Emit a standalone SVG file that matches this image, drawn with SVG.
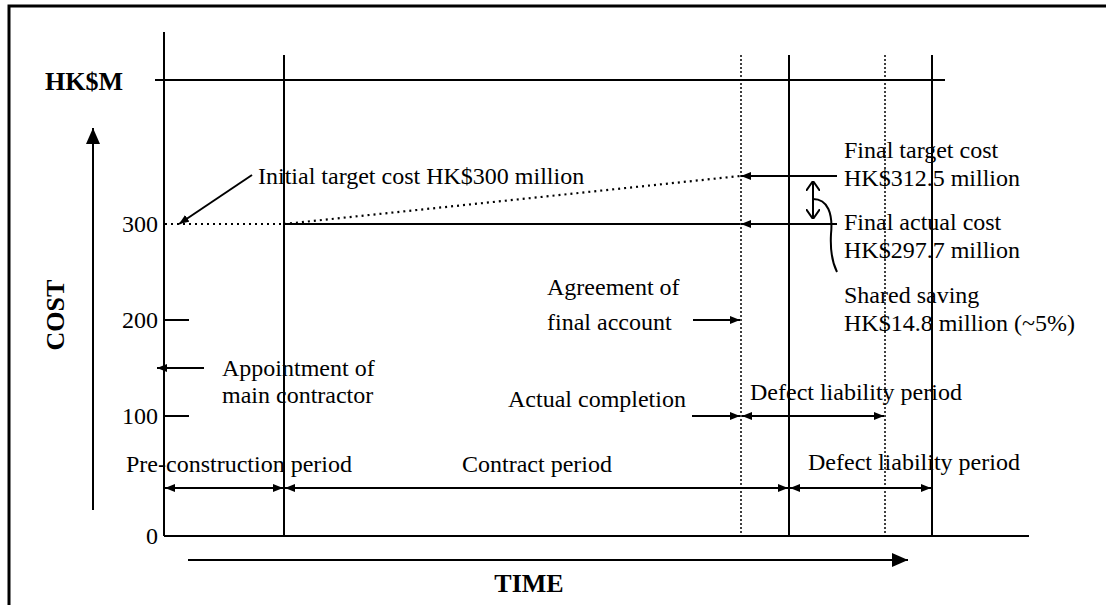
<svg xmlns="http://www.w3.org/2000/svg" width="1106" height="605" viewBox="0 0 1106 605">
<style>
.t{font-family:"Liberation Serif","Times New Roman",serif;font-size:24px;fill:#000}
.b{font-weight:bold;font-size:26px}
.ln{stroke:#000;stroke-width:2;fill:none}
.dot{stroke:#000;stroke-width:1.5;stroke-dasharray:2,2;fill:none}
.dot2{stroke:#000;stroke-width:2.2;stroke-dasharray:2,4;fill:none}
</style>
<defs>
<marker id="ah" viewBox="0 0 10 8" refX="10" refY="4" markerWidth="10" markerHeight="8" orient="auto-start-reverse" markerUnits="userSpaceOnUse"><path d="M0,0 L10,4 L0,8 z" fill="#000"/></marker>
<marker id="big" viewBox="0 0 16 14" refX="16" refY="7" markerWidth="16" markerHeight="14" orient="auto" markerUnits="userSpaceOnUse"><path d="M0,0 L16,7 L0,14 z" fill="#000"/></marker>
<marker id="open" viewBox="0 0 10 14" refX="10" refY="7" markerWidth="10" markerHeight="14" orient="auto-start-reverse" markerUnits="userSpaceOnUse"><path d="M0,0 L10,7 L0,14" fill="none" stroke="#000" stroke-width="2"/></marker>
</defs>
<rect x="0" y="0" width="1106" height="605" fill="#fff"/>
<rect x="9" y="6" width="1110" height="620" fill="none" stroke="#000" stroke-width="3"/>

<g id="grid">
<line class="ln" x1="164" y1="32" x2="164" y2="536"/>
<line class="ln" x1="155" y1="80" x2="945" y2="80"/>
<line class="ln" x1="164" y1="536" x2="1029" y2="536"/>
<line class="ln" x1="284" y1="55" x2="284" y2="536"/>
<line class="ln" x1="789" y1="55" x2="789" y2="536"/>
<line class="ln" x1="932" y1="55" x2="932" y2="536"/>
<line class="dot" x1="741" y1="55" x2="741" y2="536"/>
<line class="dot" x1="885" y1="55" x2="885" y2="536"/>
<line class="ln" x1="164" y1="320" x2="189" y2="320"/>
<line class="ln" x1="164" y1="416" x2="189" y2="416"/>
</g>

<g id="axis-labels">
<text class="t b" x="45" y="90">HK$M</text>
<text class="t" x="158" y="232" text-anchor="end">300</text>
<text class="t" x="158" y="328" text-anchor="end">200</text>
<text class="t" x="158" y="424" text-anchor="end">100</text>
<text class="t" x="158" y="544" text-anchor="end">0</text>
<text class="t b" transform="translate(64,315) rotate(-90)" text-anchor="middle">COST</text>
<text class="t b" x="529" y="592" text-anchor="middle">TIME</text>
</g>

<g id="connectors">
<line class="ln" x1="93" y1="510" x2="93" y2="128" marker-end="url(#big)"/>
<line class="ln" x1="188" y1="560" x2="908" y2="560" marker-end="url(#big)"/>
<line class="dot2" x1="165" y1="224" x2="284" y2="224"/>
<line class="dot2" x1="284" y1="224" x2="740" y2="176"/>
<line class="ln" x1="284" y1="224" x2="740" y2="224"/>
<line class="ln" x1="837" y1="224" x2="741" y2="224" marker-end="url(#ah)"/>
<line class="ln" x1="837" y1="176" x2="741" y2="176" marker-end="url(#ah)"/>
<line class="ln" x1="252" y1="175" x2="179" y2="224" marker-end="url(#ah)"/>
<line class="ln" x1="204" y1="368" x2="157" y2="368" marker-end="url(#ah)"/>
<line class="ln" x1="693" y1="320" x2="740" y2="320" marker-end="url(#ah)"/>
<line class="ln" x1="692" y1="416" x2="740" y2="416" marker-end="url(#ah)"/>
<line class="ln" x1="742" y1="416" x2="884" y2="416" marker-start="url(#ah)" marker-end="url(#ah)"/>
<line class="ln" x1="165" y1="488" x2="283" y2="488" marker-start="url(#ah)" marker-end="url(#ah)"/>
<line class="ln" x1="285" y1="488" x2="788" y2="488" marker-start="url(#ah)" marker-end="url(#ah)"/>
<line class="ln" x1="790" y1="488" x2="931" y2="488" marker-start="url(#ah)" marker-end="url(#ah)"/>
<line class="ln" x1="813" y1="181" x2="813" y2="219" marker-start="url(#open)" marker-end="url(#open)"/>
<path class="ln" d="M813,199 C828,199 833,214 831,234 C830,252 833,264 837,272"/>
</g>

<g id="labels">
<text class="t" x="258" y="184">Initial target cost HK$300 million</text>
<text class="t" x="844" y="158">Final target cost</text>
<text class="t" x="844" y="186">HK$312.5 million</text>
<text class="t" x="844" y="230">Final actual cost</text>
<text class="t" x="844" y="258">HK$297.7 million</text>
<text class="t" x="844" y="303">Shared saving</text>
<text class="t" x="844" y="331">HK$14.8 million (~5%)</text>
<text class="t" x="547" y="295">Agreement of</text>
<text class="t" x="547" y="330">final account</text>
<text class="t" x="222" y="376">Appointment of</text>
<text class="t" x="222" y="403">main contractor</text>
<text class="t" x="508" y="407">Actual completion</text>
<text class="t" x="750" y="400">Defect liability period</text>
<text class="t" x="126" y="472">Pre-construction period</text>
<text class="t" x="462" y="472">Contract period</text>
<text class="t" x="808" y="470">Defect liability period</text>
</g>
</svg>
